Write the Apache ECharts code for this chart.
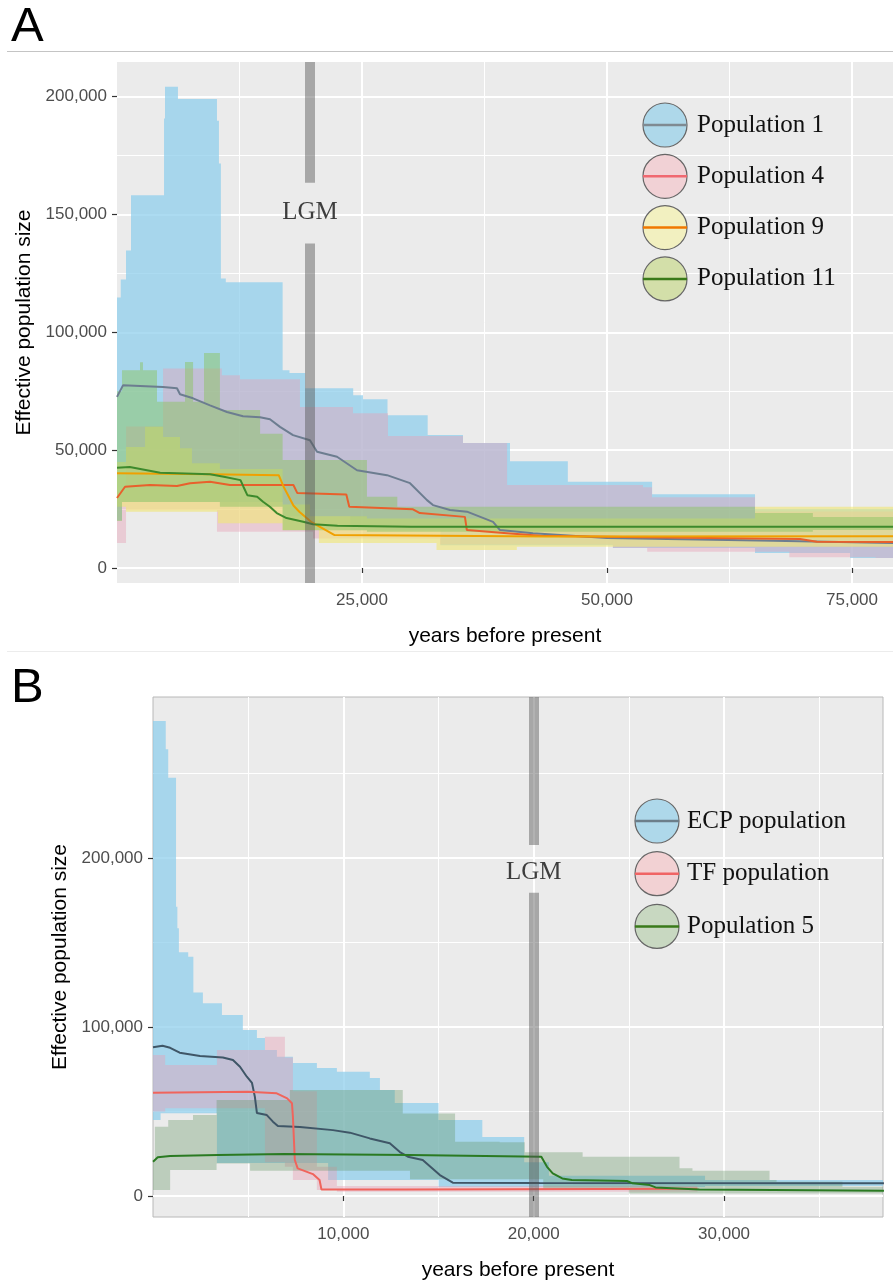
<!DOCTYPE html>
<html>
<head>
<meta charset="utf-8">
<script src="https://cdn.jsdelivr.net/npm/echarts@6/dist/echarts.min.js"></script>
<style>
html,body{margin:0;padding:0;background:#fff;}
#chart{width:893px;height:1282px;}
</style>
</head>
<body>
<div id="chart"></div>
<script>
// ---------- panel A data (years before present, effective population size) ----------
var bandA1Years = [0, 380, 510, 920, 1430, 4800, 4900, 6220, 10200, 10400, 10600, 11100, 16900, 17600, 19200, 23800, 24100, 25100, 27600, 31700, 33000, 35300, 40100, 46000, 50600, 54600, 65100, 74800, 80000];
var bandA1Upper = [114800, 122400, 122400, 134700, 158200, 190700, 204200, 199000, 189800, 171600, 122800, 121300, 83900, 82700, 76300, 76300, 73300, 71600, 64800, 56400, 56400, 53000, 45300, 36600, 36600, 31300, 25000, 25000, 25000];
var bandA1Lower = [20300, 20300, 28000, 28000, 28000, 28000, 28000, 28000, 28000, 28000, 28000, 28000, 22000, 22000, 22000, 16000, 16000, 16000, 16000, 16000, 9700, 9700, 9700, 9700, 8500, 8500, 6400, 4200, 4200];

var bandA4Years = [0, 920, 4700, 10200, 10700, 12550, 18670, 20000, 24080, 27650, 32960, 35300, 39800, 50600, 53670, 54100, 54590, 65100, 68600, 77400, 80000];
var bandA4Upper = [32000, 60000, 84700, 84700, 81800, 80100, 68300, 68300, 65700, 56000, 56000, 53000, 35200, 35200, 34300, 34300, 30000, 24000, 24000, 24000, 24000];
var bandA4Lower = [10600, 24600, 24600, 15400, 15400, 15400, 15400, 12500, 12500, 12500, 10000, 10000, 10000, 8500, 8500, 6900, 6900, 6900, 4600, 4200, 4200];

var bandA9Years = [0, 920, 2860, 4700, 6430, 7650, 10300, 10500, 16900, 19700, 20600, 25500, 32600, 40800, 65100, 80000];
var bandA9Upper = [45000, 51400, 59900, 55600, 50800, 44500, 44500, 42000, 27000, 22000, 22000, 21000, 21000, 21000, 26000, 26000];
var bandA9Lower = [26000, 23900, 23900, 23900, 23900, 23900, 19000, 19000, 16100, 16100, 10600, 10600, 7600, 9000, 9000, 9000];

var bandA11Years = [0, 510, 2350, 2650, 4080, 6940, 7760, 8880, 10500, 14600, 16900, 25500, 28600, 65100, 71000, 80000];
var bandA11Upper = [75000, 83900, 87300, 83900, 70500, 87400, 70500, 91200, 67000, 57000, 45800, 30200, 26000, 23300, 21700, 21700];
var bandA11Lower = [20000, 28000, 28000, 28000, 28000, 28000, 28000, 28000, 26000, 26000, 16000, 15400, 15400, 15400, 16100, 16100];

var lineA1 = [[0,72600],[610,77500],[4690,76800],[6120,76300],[6430,73700],[7760,72000],[9490,69000],[11220,66200],[12860,64400],[14590,64000],[15610,63100],[16630,59900],[17960,56400],[19690,54200],[20410,49300],[22450,47200],[24490,41500],[27550,39400],[29900,36000],[31630,28800],[32240,26700],[33980,24600],[35710,23900],[38370,19600],[39080,16100],[42450,14800],[50000,12700],[66940,11600],[80000,10600]];
var lineA4 = [[0,29700],[820,34500],[3370,35200],[6120,34800],[7450,36000],[9490,36600],[11530,35200],[18000,35200],[18400,31800],[23400,31200],[23700,26000],[30200,24900],[30900,23300],[35500,21700],[35700,16100],[39800,14800],[43200,13700],[53400,13100],[69700,12300],[71400,11100],[80000,11000]];
var lineA9 = [[0,40200],[9500,39800],[16500,39400],[17000,34500],[18000,26500],[18600,23900],[19800,19600],[21300,16100],[22200,14000],[44000,13400],[80000,13500]];
var lineA11 = [[0,42500],[1300,42900],[4400,40400],[9500,39800],[10900,38700],[12600,37300],[12900,34500],[13300,30900],[14300,30200],[14900,28100],[15600,26000],[16300,23300],[17300,21200],[19000,19600],[20000,18600],[22500,17900],[30000,17500],[80000,17500]];

var legendA = ['Population 1', 'Population 4', 'Population 9', 'Population 11'];
var lgmA = 19700;
var lgmGapA = [137700, 163500];

// ---------- panel B data ----------
var bandB1Years = [0, 400, 670, 800, 1210, 1280, 1360, 1850, 2120, 2620, 3360, 3620, 4720, 5460, 5880, 6510, 7350, 8610, 9200, 9660, 11390, 11920, 12700, 15000, 17300, 19500, 20800, 29000, 38400];
var bandB1Upper = [281000, 281000, 264300, 247500, 171200, 158400, 144200, 141600, 120500, 114000, 114000, 107100, 98200, 93500, 86400, 82400, 78700, 75700, 75700, 73600, 69800, 62700, 55000, 45000, 35000, 20000, 12000, 9500, 9500];
var bandB1Lower = [45000, 49000, 49000, 49000, 49000, 49000, 49000, 49000, 49000, 49000, 19500, 19500, 19500, 19500, 19500, 19500, 19500, 19500, 9500, 9500, 9500, 9500, 9500, 5300, 5300, 5300, 5300, 6000, 6000];

var bandB2Years = [0, 640, 3360, 5880, 6930, 7350, 8610, 9660, 28600];
var bandB2Upper = [83400, 77500, 86400, 94300, 82000, 62000, 17300, 6000, 6000];
var bandB2Lower = [50000, 52000, 52000, 20000, 17300, 9500, 3600, 2500, 2500];

var bandB3Years = [0, 100, 800, 900, 2100, 3340, 5100, 7190, 13120, 13500, 15870, 18210, 19530, 20500, 22570, 25000, 27660, 28340, 32390, 32760, 36220, 38400];
var bandB3Upper = [21300, 41000, 45000, 45000, 47900, 56800, 56800, 62700, 48900, 48900, 32100, 31800, 25900, 25900, 23300, 23300, 16400, 15000, 9500, 8500, 5500, 5500];
var bandB3Lower = [3600, 3600, 3600, 15400, 15400, 19300, 15000, 15000, 15000, 10000, 10000, 10000, 10000, 4000, 4000, 1500, 1500, 1500, 1500, 1500, 1500, 1500];

var lineB1 = [[0,88000],[500,88900],[900,87700],[1400,84800],[2470,82800],[3670,82000],[4200,80500],[4570,76500],[4930,70600],[5200,66900],[5350,58800],[5460,49100],[5980,47900],[6300,44000],[6560,41400],[7720,40800],[9450,39000],[10340,37500],[11390,34100],[12440,31200],[12970,26000],[13390,23300],[14170,21300],[15070,12400],[15750,7900],[20300,7700],[38400,7500]];
var lineB2 = [[0,61100],[5000,61700],[6500,60800],[7050,57800],[7300,54900],[7350,46900],[7450,21300],[7600,16400],[8400,13000],[8750,9500],[8850,3900],[13300,3900],[28600,4300]];
var lineB3 = [[0,20300],[250,22900],[900,23700],[3400,24300],[6900,24900],[13500,24300],[20400,23300],[20700,17300],[21000,13400],[21500,10400],[22000,9500],[24900,8900],[25200,7500],[26100,6500],[26400,5100],[28700,3900],[38400,3100]];

var legendB = ['ECP population', 'TF population', 'Population 5'];
var lgmB = 20000;
var lgmGapB = [179500, 207700];

// axis ranges and ticks
var xTicksA = [25000, 50000, 75000];
var xMinorA = [12500, 25000, 37500, 50000, 62500, 75000];
var yTicksA = [0, 50000, 100000, 150000, 200000];
var yMinorA = [25000, 75000, 125000, 175000];
var xTicksB = [10000, 20000, 30000];
var xMinorB = [5000, 10000, 15000, 20000, 25000, 30000, 35000];
var yTicksB = [0, 100000, 200000];
var yMinorB = [50000, 150000, 250000];

// colours
var bandColA = ['rgba(140,205,236,0.72)', 'rgba(230,160,180,0.42)', 'rgba(240,230,120,0.62)', 'rgba(140,195,100,0.5)'];
var lineColA = ['#6c7d90', '#e8602c', '#f0a000', '#3d8a2c'];
var legFillA = ['#aed8ea', '#f1d1d5', '#f2f0c0', '#d3dfa9'];
var legLineA = ['#7f8a92', '#f06870', '#f07800', '#3a7a1a'];
var bandColB = ['rgba(140,205,236,0.72)', 'rgba(230,160,180,0.42)', 'rgba(100,150,100,0.35)'];
var lineColB = ['#3f5667', '#f0645c', '#2a7a22'];
var legFillB = ['#aed8ea', '#f2d1d3', '#c8d8c1'];
var legLineB = ['#6c7e8a', '#f06464', '#3a7a1a'];

var fmt = function (v) { return v.toLocaleString('en-US'); };
var sans = "'Liberation Sans', Arial, sans-serif";
var serif = "'Liberation Serif', 'Times New Roman', serif";

// step ribbon: one polygon built from all rows, value at year i holds until year i+1
function band(years, lower, upper, color, xi, yi) {
  return {
    type: 'custom', xAxisIndex: xi, yAxisIndex: yi, silent: true, z: 2,
    data: years.map(function (x, i) { return [x, lower[i], upper[i]]; }),
    encode: { x: 0, y: [1, 2] },
    renderItem: function (params, api) {
      if (params.dataIndexInside !== 0) return null;
      var n = years.length;
      var r = params.coordSys;
      var cl = function (p) {
        return [Math.max(r.x, Math.min(r.x + r.width, p[0])), Math.max(r.y, Math.min(r.y + r.height, p[1]))];
      };
      var top = [], bot = [];
      for (var j = 0; j < n - 1; j++) {
        var x0 = api.value(0, j), x1 = api.value(0, j + 1);
        var lo = api.value(1, j), hi = api.value(2, j);
        top.push(cl(api.coord([x0, hi])), cl(api.coord([x1, hi])));
        bot.push(cl(api.coord([x0, lo])), cl(api.coord([x1, lo])));
      }
      return { type: 'polygon', shape: { points: top.concat(bot.reverse()) }, style: { fill: color } };
    }
  };
}
function line(data, color, xi, yi) {
  return { type: 'line', xAxisIndex: xi, yAxisIndex: yi, symbol: 'none', silent: true, z: 3,
    lineStyle: { width: 2, color: color }, data: data };
}
function lgm(x, gap, yMin, yMax, xi, yi) {
  return { type: 'lines', coordinateSystem: 'cartesian2d', xAxisIndex: xi, yAxisIndex: yi, silent: true, z: 4,
    lineStyle: { width: 10, color: 'rgba(85,85,85,0.45)', opacity: 1, cap: 'butt' },
    data: [{ coords: [[x, yMax], [x, gap[1]]] }, { coords: [[x, gap[0]], [x, yMin]] }] };
}
function lgmText(x, y, xi, yi) {
  return { type: 'scatter', xAxisIndex: xi, yAxisIndex: yi, symbolSize: 0, silent: true, z: 5,
    label: { show: true, position: 'inside', formatter: 'LGM', fontFamily: serif, fontSize: 25, color: '#111' },
    data: [[x, y]] };
}

function mainX(grid, max, ticks, title) {
  return { type: 'value', gridIndex: grid, min: 0, max: max,
    axisLine: { show: false },
    axisTick: { show: true, length: 5, lineStyle: { color: '#333', width: 1.2 }, customValues: ticks },
    axisLabel: { color: '#4d4d4d', fontFamily: sans, fontSize: 17, margin: 9, formatter: fmt, customValues: ticks },
    splitLine: { show: true, lineStyle: { color: '#ffffff', width: 2 } },
    name: title, nameLocation: 'middle', nameGap: 43,
    nameTextStyle: { color: '#000', fontFamily: sans, fontSize: 21 } };
}
function minorX(grid, max, ticks) {
  return { type: 'value', gridIndex: grid, min: 0, max: max,
    axisLine: { show: false }, axisLabel: { show: false },
    axisTick: { show: false, customValues: ticks },
    splitLine: { show: true, lineStyle: { color: '#ffffff', width: 1 } } };
}
function mainY(grid, min, max, ticks) {
  return { type: 'value', gridIndex: grid, min: min, max: max,
    axisLine: { show: false },
    axisTick: { show: true, length: 5, lineStyle: { color: '#333', width: 1.2 }, customValues: ticks },
    axisLabel: { color: '#4d4d4d', fontFamily: sans, fontSize: 17, margin: 10, formatter: fmt, customValues: ticks },
    splitLine: { show: true, lineStyle: { color: '#ffffff', width: 2 } },
    name: 'Effective population size', nameLocation: 'middle', nameGap: 72,
    nameTextStyle: { color: '#000', fontFamily: sans, fontSize: 21 } };
}
function minorY(grid, min, max, ticks) {
  return { type: 'value', gridIndex: grid, min: min, max: max, position: 'left',
    axisLine: { show: false }, axisLabel: { show: false },
    axisTick: { show: false, customValues: ticks },
    splitLine: { show: true, lineStyle: { color: '#ffffff', width: 1 } } };
}

function legendGraphics(names, fills, lines, cx, cy0, step, textX) {
  var out = [];
  names.forEach(function (n, i) {
    var cy = cy0 + i * step;
    out.push({ type: 'circle', shape: { cx: cx, cy: cy, r: 22 }, style: { fill: fills[i], stroke: '#666', lineWidth: 1.2 }, z: 10 });
    out.push({ type: 'line', shape: { x1: cx - 22, y1: cy, x2: cx + 22, y2: cy }, style: { stroke: lines[i], lineWidth: 2.5 }, z: 11 });
    out.push({ type: 'text', x: textX, y: cy, style: { text: n, font: '25px ' + serif, fill: '#111', textVerticalAlign: 'middle' }, z: 11 });
  });
  return out;
}

var yA = [-6356, 214700];
var yB = [-12400, 295270];

var series = [
  band(bandA1Years, bandA1Lower, bandA1Upper, bandColA[0], 0, 0),
  band(bandA4Years, bandA4Lower, bandA4Upper, bandColA[1], 0, 0),
  band(bandA9Years, bandA9Lower, bandA9Upper, bandColA[2], 0, 0),
  band(bandA11Years, bandA11Lower, bandA11Upper, bandColA[3], 0, 0),
  line(lineA1, lineColA[0], 0, 0), line(lineA4, lineColA[1], 0, 0), line(lineA9, lineColA[2], 0, 0), line(lineA11, lineColA[3], 0, 0),
  lgm(lgmA, lgmGapA, yA[0], yA[1], 0, 0), lgmText(lgmA, 150800, 0, 0),
  band(bandB1Years, bandB1Lower, bandB1Upper, bandColB[0], 2, 2),
  band(bandB2Years, bandB2Lower, bandB2Upper, bandColB[1], 2, 2),
  band(bandB3Years, bandB3Lower, bandB3Upper, bandColB[2], 2, 2),
  line(lineB1, lineColB[0], 2, 2), line(lineB2, lineColB[1], 2, 2), line(lineB3, lineColB[2], 2, 2),
  lgm(lgmB, lgmGapB, yB[0], yB[1], 2, 2), lgmText(lgmB, 191700, 2, 2)
];

var chart = echarts.init(document.getElementById('chart'), null, { renderer: 'canvas' });
chart.setOption({
  animation: false,
  backgroundColor: '#ffffff',
  grid: [
    { left: 117, top: 62, width: 776, height: 521, show: true, backgroundColor: '#ebebeb', borderWidth: 0, outerBoundsMode: 'none' },
    { left: 153, top: 697, width: 730, height: 520, show: true, backgroundColor: '#ebebeb', borderColor: '#b8b8b8', borderWidth: 1, outerBoundsMode: 'none' }
  ],
  xAxis: [
    mainX(0, 79180, xTicksA, 'years before present'),
    minorX(0, 79180, xMinorA),
    mainX(1, 38350, xTicksB, 'years before present'),
    minorX(1, 38350, xMinorB)
  ],
  yAxis: [
    mainY(0, yA[0], yA[1], yTicksA),
    minorY(0, yA[0], yA[1], yMinorA),
    mainY(1, yB[0], yB[1], yTicksB),
    minorY(1, yB[0], yB[1], yMinorB)
  ],
  series: series,
  graphic: [
    { type: 'text', x: 11, y: 27, style: { text: 'A', font: '49px ' + sans, fill: '#000', textVerticalAlign: 'middle' } },
    { type: 'line', shape: { x1: 7, y1: 51.5, x2: 893, y2: 51.5 }, style: { stroke: '#c4c4c4', lineWidth: 1 } },
    { type: 'line', shape: { x1: 7, y1: 651.5, x2: 893, y2: 651.5 }, style: { stroke: '#ececec', lineWidth: 1 } },
    { type: 'text', x: 11, y: 688, style: { text: 'B', font: '49px ' + sans, fill: '#000', textVerticalAlign: 'middle' } }
  ].concat(legendGraphics(legendA, legFillA, legLineA, 665, 125, 51.3, 697))
   .concat(legendGraphics(legendB, legFillB, legLineB, 657, 821, 52.7, 687))
});
</script>
</body>
</html>
